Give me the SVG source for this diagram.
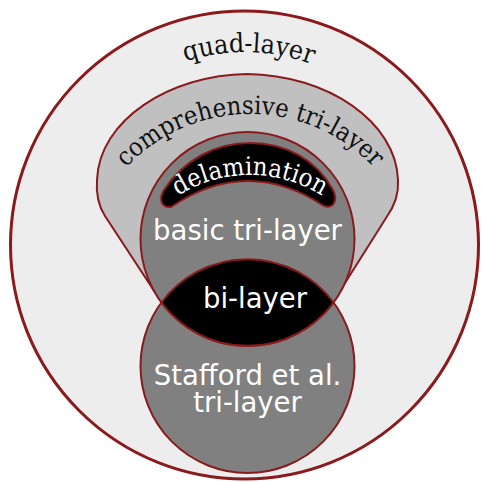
<svg xmlns="http://www.w3.org/2000/svg" xmlns:xlink="http://www.w3.org/1999/xlink" width="482" height="482" viewBox="0 0 482 482">
<style>
.st{stroke:#8a1a1c;stroke-width:2;}
.serif{font-family:"DejaVu Serif Condensed","DejaVu Serif","Liberation Serif",serif;font-stretch:condensed;}
.sans{font-family:"DejaVu Sans","Liberation Sans",sans-serif;fill:#ffffff;font-size:27.5px;text-anchor:middle;}
</style>
<defs>
<path id="arcQuad" d="M 51.5,245 A 193 193 0 0 1 437.5,245"/>
<path id="arcComp" d="M 80,284 A 170 170 0 0 1 420,284"/>
<path id="arcDelam" d="M 115,310 A 135 135 0 0 1 385,310"/>
</defs>
<rect width="482" height="482" fill="#ffffff"/>
<g id="quad-layer">
<circle cx="244.5" cy="245" r="234" fill="#ededed" stroke="#8a1a1c" stroke-width="3"/>
<text class="serif" font-size="26.5" fill="#111"><textPath href="#arcQuad" xlink:href="#arcQuad" startOffset="50.7%" text-anchor="middle">quad-layer</textPath></text>
</g>
<g id="comprehensive-tri-layer">
<path class="st" fill="#c0c0c0" d="M 162,303 L 105,216 C 98,205 96,193 97,180 C 99,120 170,75 247,74 C 328,75 396,122 398,180 C 399,195 394,207 386,218 L 333,302 Z"/>
<text class="serif" font-size="25.5" fill="#111"><textPath href="#arcComp" xlink:href="#arcComp" startOffset="50%" text-anchor="middle">comprehensive tri-layer</textPath></text>
</g>
<g id="stafford-tri-layer">
<circle class="st" cx="247.5" cy="366" r="107" fill="#808080"/>
<text class="sans" x="247.5" y="385">Stafford et al.</text>
<text class="sans" x="247.5" y="412">tri-layer</text>
</g>
<g id="basic-tri-layer">
<circle class="st" cx="247.5" cy="239" r="107" fill="#808080"/>
<text class="sans" x="247.5" y="240">basic tri-layer</text>
</g>
<g id="bi-layer">
<path class="st" fill="#000000" d="M 161.5,302.5 A 107 107 0 0 1 333.5,302.5 A 107 107 0 0 1 161.5,302.5 Z"/>
<text class="sans" x="255" y="308">bi-layer</text>
</g>
<g id="delamination">
<path class="st" fill="#000000" d="M 171,207 C 162,208 158,200 164,190 C 184,160 215,143 250,143 C 285,143 316,159 333,190 C 338,200 334,209 324,206 C 300,190 275,181 248,181 C 221,181 196,190 171,207 Z"/>
<text class="serif" font-size="25.5" fill="#ffffff"><textPath href="#arcDelam" xlink:href="#arcDelam" startOffset="50%" text-anchor="middle">delamination</textPath></text>
</g>
<g id="connectors"></g>
</svg>
